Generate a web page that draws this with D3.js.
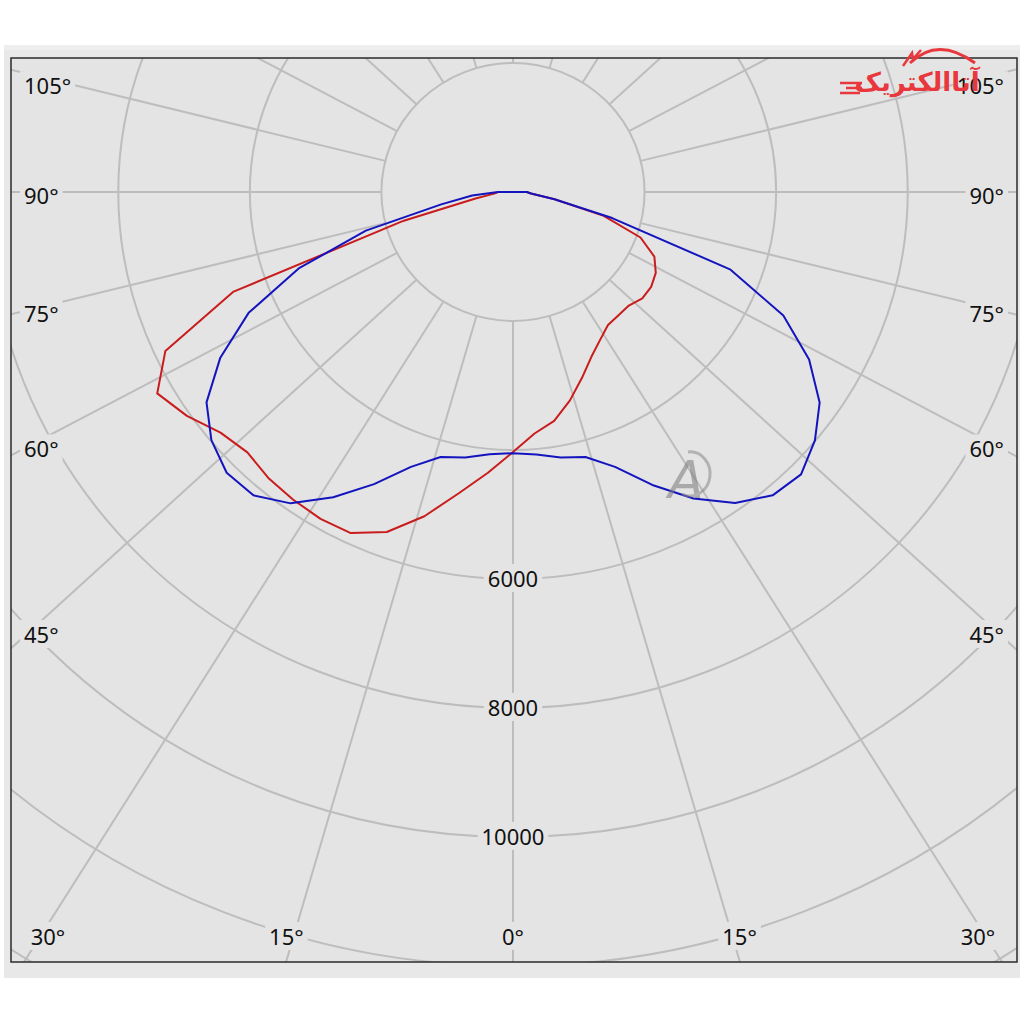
<!DOCTYPE html>
<html><head><meta charset="utf-8">
<script src="https://cdn.jsdelivr.net/npm/d3@7"></script>
<style>html,body{margin:0;padding:0;background:#fff;} svg{display:block}</style>
</head><body>
<svg id="chart" width="1024" height="1024"></svg>
<script>
// ---------- data ----------
const gammaAngles = [-90,-85,-80,-75,-70,-65,-60,-55,-50,-45,-40,-35,-30,-25,-20,-15,-10,-5,0,5,10,15,20,25,30,35,40,45,50,55,60,65,70,75,80,85,90];
const redSeries  = [228,287,578,1718,4529,5830,6244,6051,5804,5710,5786,5824,5851,5835,5609,5204,4743,4370,4030,3758,3604,3345,3066,2819,2648,2517,2495,2490,2566,2563,2506,2371,2062,1428,641,275,210];
const blueSeries = [228,623,1108,2315,3467,4434,5137,5687,5985,6155,6139,5893,5465,4997,4535,4254,4180,4081,4050,4084,4180,4254,4535,5011,5487,5887,6139,6192,5991,5690,5197,4534,3519,1560,641,275,210];
const ringValues = [2000,4000,6000,8000,10000,12000,14000,16000];
const ringLabelValues = [6000,8000,10000];
const spokeAngles = [0,15,30,45,60,75,90,105,120,135,150,165,180,-15,-30,-45,-60,-75,-90,-105,-120,-135,-150,-165];
const seriesColors = {red:"#c91c1c", blue:"#1414bf"};

// ---------- layout ----------
const svg = d3.select("#chart");
const cx = 513, cy = 192;
const plot = {x0: 11, y0: 58, x1: 1017, y1: 962};
const rScale = d3.scaleLinear().domain([0, 10000]).range([0, 645]);
const ringAspect = 1.02, spokeAspect = 1.1;
const rad = d => d * Math.PI / 180;
const bg = "#e4e4e4", grid = "#bdbdbd";
const font = "'Noto Sans', 'Open Sans', sans-serif";

// outer frame
svg.append("rect").attr("x",4).attr("y",45).attr("width",1016).attr("height",933).attr("fill","#e8e8e8");
svg.append("rect").attr("x",4).attr("y",45).attr("width",1016).attr("height",5).attr("fill","#eeeeee");
svg.append("rect").attr("x",plot.x0).attr("y",plot.y0).attr("width",plot.x1-plot.x0).attr("height",plot.y1-plot.y0).attr("fill",bg);

svg.append("defs").append("clipPath").attr("id","clip")
  .append("rect").attr("x",plot.x0).attr("y",plot.y0).attr("width",plot.x1-plot.x0).attr("height",plot.y1-plot.y0);
const g = svg.append("g").attr("clip-path","url(#clip)");

// rings
g.selectAll("ellipse.ring").data(ringValues).join("ellipse")
  .attr("class","ring").attr("cx",cx).attr("cy",cy)
  .attr("rx",d=>ringAspect*rScale(d)).attr("ry",d=>rScale(d))
  .attr("fill","none").attr("stroke",grid).attr("stroke-width",2);

// spokes
const R0 = rScale(ringValues[0]);
function spokeDir(theta){ return [spokeAspect*Math.sin(rad(theta)), Math.cos(rad(theta))]; }
g.selectAll("line.spoke").data(spokeAngles).join("line")
  .attr("class","spoke")
  .each(function(theta){
    const [dx,dy] = spokeDir(theta);
    const t0 = R0 / Math.sqrt(Math.pow(dx/ringAspect,2) + dy*dy);
    d3.select(this).attr("x1",cx+dx*t0).attr("y1",cy+dy*t0).attr("x2",cx+dx*2000).attr("y2",cy+dy*2000);
  })
  .attr("stroke",grid).attr("stroke-width",2);

// curves (closed across the top, as in the reference)
function proj(a, v){ const r = rScale(v); return [cx + ringAspect*r*Math.sin(rad(a)), cy + r*Math.cos(rad(a))]; }
const lineGen = d3.line().x(d=>d[0]).y(d=>d[1]);
function curvePts(vals){ const p = gammaAngles.map((a,i)=>proj(a, vals[i])); p.push(p[0]); return p; }
g.append("path").datum(curvePts(redSeries))
  .attr("d",lineGen).attr("fill","none").attr("stroke",seriesColors.red).attr("stroke-width",2).attr("stroke-linejoin","round");
g.append("path").datum(curvePts(blueSeries))
  .attr("d",lineGen).attr("fill","none").attr("stroke",seriesColors.blue).attr("stroke-width",2).attr("stroke-linejoin","round");

// labels with background
const labelLayer = svg.append("g");
function addLabel(x, y, txt, anchor){
  const grp = labelLayer.append("g");
  const r = grp.append("rect").attr("fill",bg);
  const t = grp.append("text").attr("x",x).attr("y",y).attr("dy","0.36em")
    .attr("text-anchor",anchor).attr("font-family",font).attr("font-size",22).attr("fill","#111").text(txt);
  const b = t.node().getBBox();
  r.attr("x",b.x-4).attr("y",b.y+1).attr("width",b.width+8).attr("height",b.height-2);
}

ringLabelValues.forEach(v => addLabel(cx, cy + rScale(v), String(v), "middle"));

spokeAngles.forEach(theta => {
  const [dx,dy] = spokeDir(theta);
  let tExit = Infinity, side = null;
  if (dx < -1e-9){ const t=(plot.x0-cx)/dx; if(t<tExit){tExit=t;side="left";} }
  if (dx >  1e-9){ const t=(plot.x1-cx)/dx; if(t<tExit){tExit=t;side="right";} }
  if (dy >  1e-9){ const t=(plot.y1-cy)/dy; if(t<tExit){tExit=t;side="bottom";} }
  if (dy < -1e-9){ const t=(plot.y0-cy)/dy; if(t<tExit){tExit=t;side="top";} }
  const txt = Math.abs(theta) + "°";
  const yShift = dy < -1e-9 ? 12 : 4;
  if (side === "left"){
    const t = (30-cx)/dx; addLabel(24, cy + dy*t + yShift, txt, "start");
  } else if (side === "right"){
    const t = (996-cx)/dx; addLabel(1004, cy + dy*t + yShift, txt, "end");
  } else if (side === "bottom"){
    const t = (937-cy)/dy; let x = cx + dx*t + Math.sign(dx)*7; x = Math.max(48, Math.min(978, x));
    addLabel(x, 937, txt, "middle");
  }
});

// plot border
svg.append("rect").attr("x",plot.x0).attr("y",plot.y0).attr("width",plot.x1-plot.x0).attr("height",plot.y1-plot.y0)
  .attr("fill","none").attr("stroke","#2a2a2a").attr("stroke-width",1.5);

// watermark logo (top right)
const logo = svg.append("g");
logo.append("path").attr("d","M910,63 Q938,36 975,63").attr("fill","none").attr("stroke","#e8383d").attr("stroke-width",3);
logo.append("path").attr("d","M903,66 L912,53 L913,59 L921,50").attr("fill","none").attr("stroke","#e8383d").attr("stroke-width",2.5);
[[840,83,862],[846,88,862],[840,93,860]].forEach(s=>logo.append("line").attr("x1",s[0]).attr("y1",s[1]).attr("x2",s[2]).attr("y2",s[1]).attr("stroke","#e8383d").attr("stroke-width",2.5));
logo.append("text").attr("x",917).attr("y",91).attr("text-anchor","middle")
  .attr("font-family","'DejaVu Sans', sans-serif").attr("font-weight","bold").attr("font-size",26)
  .attr("fill","#e8383d").text("آتاالکتریک");

// faint "A" watermark
const wm = svg.append("g").attr("opacity",0.55);
wm.append("text").attr("x",686).attr("y",498).attr("text-anchor","middle").attr("font-family","'DejaVu Sans', sans-serif")
  .attr("font-style","italic").attr("font-size",52).attr("fill","#7a7a7a").text("A");
wm.append("path").attr("d","M688,452 A20,22 0 1,1 682,494").attr("fill","none").attr("stroke","#8a8a8a").attr("stroke-width",3);
</script>
</body></html>
